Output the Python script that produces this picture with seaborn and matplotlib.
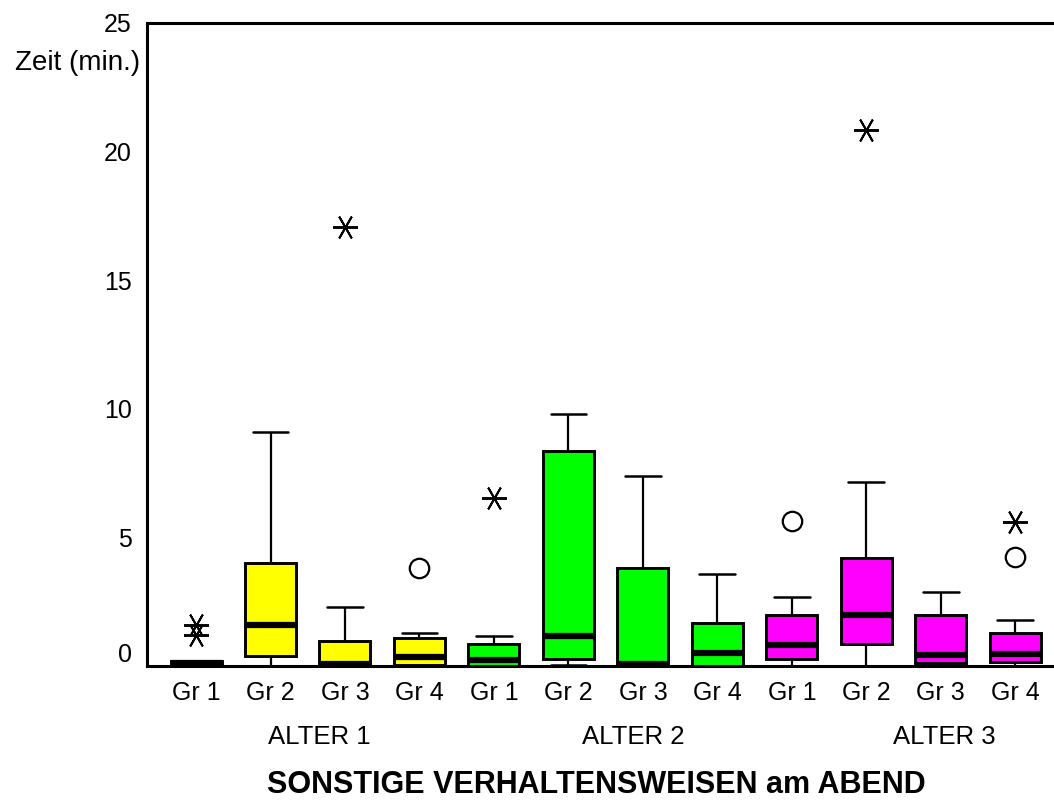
import numpy as np
import pandas as pd
import matplotlib
matplotlib.use("Agg")
import matplotlib.pyplot as plt
import matplotlib.transforms as mtransforms
import seaborn as sns

# ------------------------------------------------------------------
# Data
# ------------------------------------------------------------------
alter_names = ["ALTER 1", "ALTER 2", "ALTER 3"]
group_names = ["Gr 1", "Gr 2", "Gr 3", "Gr 4"]
alter_colors = {"ALTER 1": "#ffff00", "ALTER 2": "#00ff00", "ALTER 3": "#ff00ff"}

box_alter = [a for a in alter_names for _ in group_names]
box_group = group_names * 3
box_ids = [f"{a} {g}" for a, g in zip(box_alter, box_group)]

# five-number summary per box: whisker low, Q1, median, Q3, whisker high
whisker_low = [0.0, 0.0, 0.0, 0.0, 0.0, 0.03, 0.0, 0.0, 0.0, 0.0, 0.0, 0.0]
q1 = [0.0, 0.38, 0.0, 0.04, 0.0, 0.26, 0.0, 0.0, 0.26, 0.84, 0.12, 0.17]
median = [0.1, 1.6, 0.08, 0.35, 0.23, 1.15, 0.08, 0.49, 0.82, 2.0, 0.42, 0.47]
q3 = [0.2, 4.0, 0.97, 1.1, 0.86, 8.37, 3.8, 1.69, 1.97, 4.2, 1.97, 1.3]
whisker_high = [0.2, 9.1, 2.3, 1.3, 1.17, 9.8, 7.37, 3.57, 2.68, 7.17, 2.89, 1.78]

# extreme values (asterisks) and outliers (circles)
extreme_box = ["ALTER 1 Gr 1", "ALTER 1 Gr 1", "ALTER 1 Gr 3", "ALTER 2 Gr 1",
               "ALTER 3 Gr 2", "ALTER 3 Gr 4"]
extreme_val = [1.6, 1.2, 17.08, 6.52, 20.83, 5.59]
outlier_box = ["ALTER 1 Gr 4", "ALTER 3 Gr 1", "ALTER 3 Gr 4"]
outlier_val = [3.8, 5.65, 4.25]

y_ticks = [0, 5, 10, 15, 20, 25]

# long table: the five summary values per box give exactly these quartiles
rows = []
for i, b in enumerate(box_ids):
    for v in (whisker_low[i], q1[i], median[i], q3[i], whisker_high[i]):
        rows.append({"box": b, "alter": box_alter[i], "zeit": v})
df = pd.DataFrame(rows)

# ------------------------------------------------------------------
# Plot
# ------------------------------------------------------------------
sns.set_style("white")
plt.rcParams["font.family"] = ["Liberation Sans", "DejaVu Sans"]
plt.rcParams["text.color"] = "black"

fig = plt.figure(figsize=(10.54, 8.07), dpi=100)
ax = fig.add_axes([0.1395, 0.1747, 0.8605, 0.7968])

sns.boxplot(
    data=df, x="box", y="zeit", hue="alter", order=box_ids,
    palette=alter_colors, dodge=False, width=0.685, saturation=1,
    linecolor="black", linewidth=2.1, whis=(0, 100), showfliers=False,
    legend=False, medianprops=dict(linewidth=4.5),
    whiskerprops=dict(linewidth=1.6), capprops=dict(linewidth=1.8),
    capwidths=0.48, ax=ax,
)

ext_x = [box_ids.index(b) for b in extreme_box]
out_x = [box_ids.index(b) for b in outlier_box]
ax.plot(ext_x, extreme_val, linestyle="none", marker=(6, 2, 90),
        markersize=18, color="black", markeredgewidth=1.4, zorder=5)
ax.plot(out_x, outlier_val, linestyle="none", marker="o", markersize=14,
        markerfacecolor="white", markeredgecolor="black",
        markeredgewidth=1.6, zorder=5)

ax.set_xlim(-0.658, 11.52)
ax.set_ylim(0, 25)
ax.set_yticks(y_ticks)
ax.set_yticklabels([str(t) for t in y_ticks])
ax.set_xticks(range(len(box_ids)))
ax.set_xticklabels(box_group)
ax.set_xlabel("")
ax.set_ylabel("")

ax.tick_params(axis="y", direction="out", length=4, width=3, pad=7,
               labelsize=18, colors="black")
ax.tick_params(axis="x", length=0, pad=11, labelsize=18, colors="black")

for side in ["left", "bottom", "top"]:
    ax.spines[side].set_visible(True)
    ax.spines[side].set_linewidth(2.2)
    ax.spines[side].set_color("black")
ax.spines["right"].set_visible(False)

# SPSS lifts the "0" label above the baseline
lift = mtransforms.ScaledTranslation(0, 14 / 100, fig.dpi_scale_trans)
zero_lbl = ax.get_yticklabels()[0]
zero_lbl.set_transform(zero_lbl.get_transform() + lift)

# age-group labels under the group ticks
alter_pos = [1.66, 5.87, 10.05]
for name, xpos in zip(alter_names, alter_pos):
    ax.text(xpos, -0.11, name, transform=ax.get_xaxis_transform(),
            ha="center", va="center", fontsize=18.5, color="black")

fig.text(140 / 1054, 1 - 63 / 807, "Zeit (min.)", ha="right", va="center",
         fontsize=20, color="black")
fig.text(596 / 1054, 1 - 785 / 807, "SONSTIGE VERHALTENSWEISEN am ABEND",
         ha="center", va="center", fontsize=22, fontweight="bold",
         color="black")

fig.savefig("out.png", dpi=100)
